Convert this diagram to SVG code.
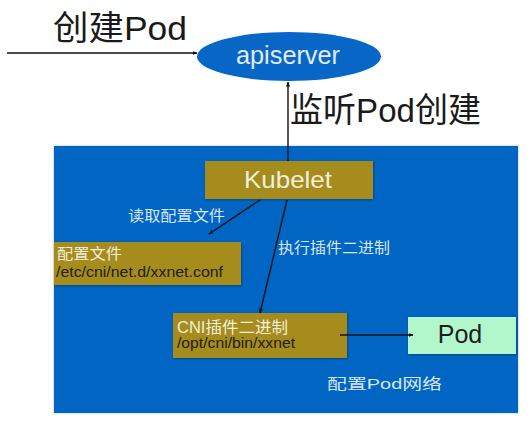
<svg xmlns="http://www.w3.org/2000/svg" width="532" height="422" viewBox="0 0 532 422">
  <style>
    text { font-family: "Liberation Sans", "Noto Sans CJK SC", sans-serif; }
    .big { font-size: 34px; fill: #1a1a1a; }
    .lbl { font-size: 15px; fill: #dbe6f5; }
    .gold { fill: #a58c1f; filter: url(#sh); }
    .light { fill: #f2eedc; }
    .dark { fill: #22200f; }
    .conn { stroke: #111; stroke-width: 1.4; fill: none; marker-end: url(#ah); }
  </style>
  <defs>
    <marker id="ah" viewBox="0 0 10 10" refX="9" refY="5" markerWidth="5" markerHeight="5" orient="auto" markerUnits="userSpaceOnUse">
      <path d="M0,1 L10,5 L0,9 z" fill="#111"/>
    </marker>
    <filter id="sh" x="-10%" y="-10%" width="130%" height="140%">
      <feDropShadow dx="0.6" dy="0.8" stdDeviation="0.8" flood-color="#000" flood-opacity="0.35"/>
    </filter>
    <filter id="sh2" x="-5%" y="-5%" width="110%" height="110%">
      <feDropShadow dx="0" dy="0" stdDeviation="1" flood-color="#000" flood-opacity="0.3"/>
    </filter>
  </defs>
  <rect width="532" height="422" fill="#ffffff"/>

  <g id="node">
    <rect x="54" y="146" width="464" height="267" fill="#0565c3" filter="url(#sh2)"/>
  </g>

  <g id="title-create">
    <text class="big" x="53" y="40" textLength="134" lengthAdjust="spacingAndGlyphs">创建Pod</text>
  </g>

  <g id="apiserver">
    <ellipse cx="289" cy="56.5" rx="92" ry="24.5" fill="#0867c6"/>
    <text x="288" y="64" font-size="25" fill="#e2ebf7" text-anchor="middle" textLength="104" lengthAdjust="spacingAndGlyphs">apiserver</text>
  </g>

  <g id="label-watch">
    <text class="big" x="290" y="122" textLength="191" lengthAdjust="spacingAndGlyphs">监听Pod创建</text>
  </g>

  <g id="kubelet">
    <rect class="gold" x="205" y="161" width="168" height="38"/>
    <text class="light" x="288" y="188" font-size="24" text-anchor="middle" textLength="88" lengthAdjust="spacingAndGlyphs">Kubelet</text>
  </g>

  <g id="config-file">
    <rect class="gold" x="54" y="242" width="187" height="43"/>
    <text class="light" x="57" y="259" font-size="15" textLength="65" lengthAdjust="spacingAndGlyphs">配置文件</text>
    <text class="dark" x="56" y="277" font-size="14" textLength="167" lengthAdjust="spacingAndGlyphs">/etc/cni/net.d/xxnet.conf</text>
  </g>

  <g id="cni-binary">
    <rect class="gold" x="173" y="313" width="174" height="45"/>
    <text class="light" x="177" y="333" font-size="16" textLength="111" lengthAdjust="spacingAndGlyphs">CNI插件二进制</text>
    <text class="dark" x="177" y="348" font-size="14" textLength="118" lengthAdjust="spacingAndGlyphs">/opt/cni/bin/xxnet</text>
  </g>

  <g id="pod">
    <rect x="408" y="317" width="108" height="37" fill="#b2f6cc" filter="url(#sh)"/>
    <text x="460" y="343" font-size="25" fill="#1e1e1e" text-anchor="middle">Pod</text>
  </g>

  <g id="connectors">
    <line class="conn" x1="7" y1="53" x2="197" y2="53"/>
    <line class="conn" x1="288" y1="161" x2="288" y2="82"/>
    <line class="conn" x1="260" y1="200" x2="209" y2="234"/>
    <line class="conn" x1="287" y1="200" x2="260" y2="313"/>
    <line class="conn" x1="340" y1="335" x2="413" y2="335"/>
  </g>

  <g id="labels">
    <text class="lbl" x="128" y="221" textLength="97" lengthAdjust="spacingAndGlyphs">读取配置文件</text>
    <text class="lbl" x="278" y="253" textLength="112" lengthAdjust="spacingAndGlyphs">执行插件二进制</text>
    <text class="lbl" x="327" y="389" font-size="17" textLength="115" lengthAdjust="spacingAndGlyphs">配置Pod网络</text>
  </g>
</svg>
